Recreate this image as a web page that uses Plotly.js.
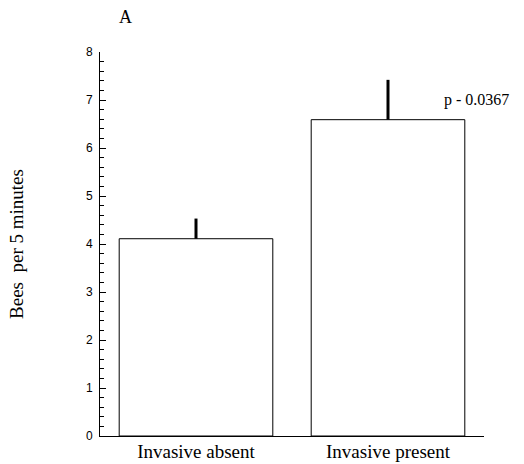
<!DOCTYPE html>
<html>
<head>
<meta charset="utf-8">
<script src="https://cdn.plot.ly/plotly-3.0.1.min.js"></script>
<style>html,body{margin:0;padding:0;background:#fff;}#chart{width:524px;height:464px;}</style>
</head>
<body>
<div id="chart"></div>
<script>
const categories = ["Invasive absent", "Invasive present"];
const beesPer5Min = [4.11, 6.59];
const errorUp = [0.42, 0.83];
const yTicks = [0, 1, 2, 3, 4, 5, 6, 7, 8];
const pLabel = "p - 0.0367";
const panelLabel = "A";

const trace = {
  type: "bar",
  x: categories,
  y: beesPer5Min,
  width: 0.8,
  marker: {color: "#ffffff", line: {color: "#000000", width: 1}},
  error_y: {type: "data", symmetric: false, array: errorUp, arrayminus: [0, 0], color: "#000000", thickness: 3, width: 0},
  hoverinfo: "skip"
};

const serif = "Liberation Serif, Times New Roman, serif";

const layout = {
  width: 524, height: 464,
  margin: {l: 100, r: 40, t: 52, b: 28, pad: 0},
  paper_bgcolor: "#ffffff", plot_bgcolor: "#ffffff",
  showlegend: false,
  xaxis: {
    type: "category", range: [-0.5, 1.5],
    showline: true, linecolor: "#000000", linewidth: 1,
    showgrid: false, zeroline: false, ticks: "",
    tickfont: {family: serif, size: 19, color: "#000000"},
    ticklabelstandoff: -2
  },
  yaxis: {
    range: [0, 8], tickvals: yTicks, ticktext: yTicks.map(String),
    showline: true, linecolor: "#000000", linewidth: 1,
    showgrid: false, zeroline: false,
    ticks: "inside", ticklen: 6, tickwidth: 1, tickcolor: "#000000",
    minor: {dtick: 0.2, ticks: "inside", ticklen: 4, tickwidth: 1, tickcolor: "#000000", showgrid: false},
    tickfont: {family: "Liberation Sans, Arial, sans-serif", size: 12, color: "#000000"},
    ticklabelstandoff: 4,
    title: {text: "Bees&nbsp;&nbsp;per 5 minutes", standoff: 57, font: {family: serif, size: 19, color: "#000000"}}
  },
  annotations: [
    {text: pLabel, xref: "x", yref: "y", x: 1.28, y: 7.0, xanchor: "left", yanchor: "middle", showarrow: false,
     font: {family: serif, size: 16, color: "#000000"}},
    {text: panelLabel, xref: "paper", yref: "paper", x: 0.045, y: 1.091, xanchor: "left", yanchor: "middle", showarrow: false,
     font: {family: serif, size: 18, color: "#000000"}}
  ]
};

Plotly.newPlot("chart", [trace], layout, {staticPlot: true, displayModeBar: false});
</script>
</body>
</html>
